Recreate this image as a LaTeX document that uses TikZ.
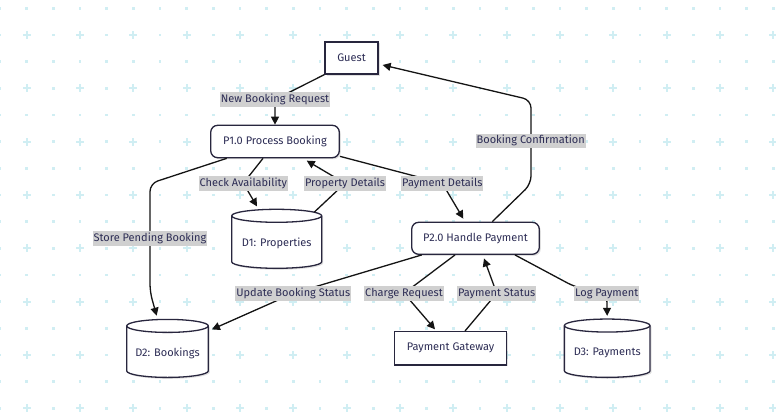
\documentclass[tikz,border=0pt]{standalone}
\usepackage{fontspec}
\setmainfont{Fira Sans}
\usetikzlibrary{arrows.meta,shadows}
\definecolor{txt}{RGB}{45,45,85}
\definecolor{bord}{RGB}{40,38,62}
\definecolor{edgec}{RGB}{20,20,20}
\definecolor{lblbg}{RGB}{208,208,208}
\definecolor{dotc}{RGB}{208,238,243}
\tikzset{
  boxbase/.style={draw=bord, line width=1.3pt, fill=white, text=txt, inner sep=0pt,
    drop shadow={shadow xshift=1.5pt, shadow yshift=-1.5pt, fill=black, opacity=0.12}},
  procbox/.style={boxbase, rounded corners=7pt},
  extbox/.style={boxbase},
  storetext/.style={inner sep=0pt, text=txt},
  edgeln/.style={draw=edgec, line width=1.3pt, rounded corners=8pt, -{Triangle[length=8pt,width=8pt]}},
  lbl/.style={fill=lblbg, text=txt, inner xsep=1pt, inner ysep=2pt, text height=8pt, text depth=2.5pt},
}
\newcommand\dbstore[6]{%
  \fill[black,opacity=0.12,shift={(1.5,1.5)}]
    ({#2-#4/2},{#3-#5/2+6.5}) -- ({#2-#4/2},{#3+#5/2-6.5})
    arc[start angle=180,end angle=0,x radius={#4/2},y radius=6.5]
    -- ({#2+#4/2},{#3-#5/2+6.5})
    arc[start angle=0,end angle=-180,x radius={#4/2},y radius=6.5] -- cycle;
  \draw[draw=bord,line width=1.3pt,fill=white]
    ({#2-#4/2},{#3-#5/2+6.5}) -- ({#2-#4/2},{#3+#5/2-6.5})
    arc[start angle=180,end angle=0,x radius={#4/2},y radius=6.5]
    -- ({#2+#4/2},{#3-#5/2+6.5})
    arc[start angle=0,end angle=-180,x radius={#4/2},y radius=6.5] -- cycle;
  \draw[draw=bord,line width=1.3pt]
    ({#2-#4/2},{#3-#5/2+6.5}) arc[start angle=180,end angle=0,x radius={#4/2},y radius=6.5];
  \node[storetext, minimum width=#4, minimum height=#5] (#1) at (#2,#3)
    {\raisebox{-5pt}[\height][\depth]{#6}};
}
\begin{document}
\begin{tikzpicture}[x=1pt,y=-1pt,font=\fontsize{11}{13}\selectfont]
\useasboundingbox (0,0) rectangle (776,412);
\fill[white] (0,0) rectangle (776,412);
% background pattern
\foreach \i in {0,...,29}{
  \foreach \j in {0,...,15}{
    \pgfmathsetmacro\xx{\i*26.667}
    \pgfmathsetmacro\yy{8.333+\j*26.667}
    \pgfmathtruncatemacro\cc{mod(\i,2)*mod(\j,2)}
    \ifnum\cc=1
      \fill[dotc] (\xx-4,\yy-1) rectangle (\xx+4,\yy+1);
      \fill[dotc] (\xx-1,\yy-4) rectangle (\xx+1,\yy+4);
    \else
      \fill[dotc] (\xx-1.2,\yy-1.2) rectangle (\xx+1.2,\yy+1.2);
    \fi
  }
}
% nodes
\node[extbox, minimum width=53, minimum height=32] (guest) at (351.5,58) {Guest};
\node[procbox, minimum width=128.6, minimum height=32.4] (p1) at (275,141.5) {P1.0 Process Booking};
\node[procbox, minimum width=127.6, minimum height=32] (p2) at (475.5,238.3) {P2.0 Handle Payment};
\node[extbox, minimum width=112.4, minimum height=33.3] (gw) at (450.5,348.3) {Payment Gateway};
\dbstore{d1}{276.7}{238.8}{90}{59}{D1: Properties}
\dbstore{d2}{167.5}{348.4}{81.6}{58}{D2: Bookings}
\dbstore{d3}{607.2}{348.2}{85.7}{58.3}{D3: Payments}
% edges
\draw[edgeln] (guest.south west) -- (275,99.5) -- (p1.north);
\draw[edgeln] ([xshift=-12pt]p1.south) -- (243.3,183.3) -- ([xshift=-19.7pt,yshift=2.7pt]d1.north);
\draw[edgeln] ([xshift=37.6pt,yshift=-3pt]d1.north) -- (345,183.3) -- ([xshift=31.7pt,yshift=-2.3pt]p1.south);
\draw[edgeln] ([yshift=2pt]p1.south east) -- (442.3,183.3) -- ([xshift=-12.2pt,yshift=3pt]p2.north);
\draw[edgeln] ([xshift=16.8pt]p2.north) -- (531,184) -- (531,100) -- ([xshift=4pt,yshift=-7pt]guest.east);
\draw[edgeln] ([xshift=-48.3pt]p1.south) -- (150,183.5) -- (150,292) -- ([xshift=-10.8pt,yshift=3.5pt]d2.north);
\draw[edgeln] ([xshift=-53.8pt]p2.south) -- (293.3,293.3) -- ([xshift=3.4pt,yshift=19pt]d2.east);
\draw[edgeln] ([xshift=-20.5pt]p2.south) -- (404,293.3) -- ([xshift=-15.5pt,yshift=1.7pt]gw.north);
\draw[edgeln] ([xshift=14.5pt]gw.north) -- (496.7,293.3) -- ([xshift=8.5pt,yshift=-3.5pt]p2.south);
\draw[edgeln] ([xshift=39.5pt]p2.south) -- (575,287) -- (606.7,293.3) -- ([yshift=3pt]d3.north);
% labels
\node[lbl] (l1) at (275,99.5) {New Booking Request};
\node[lbl] (l2) at (243.3,183.3) {Check Availability};
\node[lbl] (l3) at (345,183.3) {Property Details};
\node[lbl] (l4) at (442.3,183.3) {Payment Details};
\node[lbl] (l5) at (530.7,141) {Booking Confirmation};
\node[lbl] (l6) at (150,238.3) {Store Pending Booking};
\node[lbl] (l7) at (293.3,293.3) {Update Booking Status};
\node[lbl] (l8) at (404,293.3) {Charge Request};
\node[lbl] (l9) at (496.7,293.3) {Payment Status};
\node[lbl] (l10) at (606.7,293.3) {Log Payment};
\end{tikzpicture}
\end{document}
